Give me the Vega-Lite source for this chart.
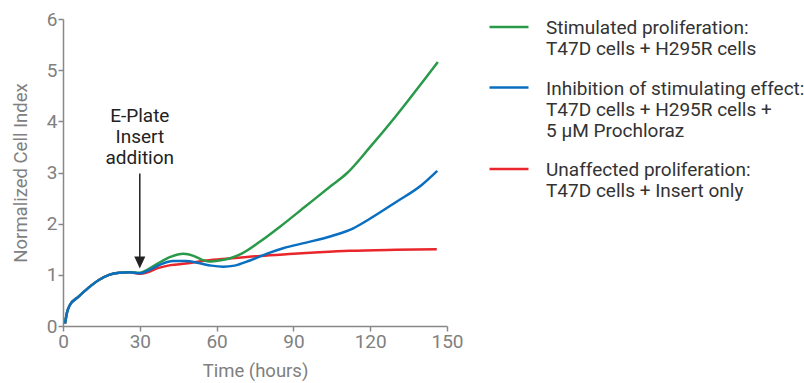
{
  "$schema": "https://vega.github.io/schema/vega-lite/v6.json",
  "width": 384,
  "height": 307,
  "autosize": {"type": "none"},
  "padding": {"left": 63, "top": 19, "right": 357, "bottom": 57},
  "config": {
    "view": {"stroke": null},
    "font": "Roboto",
    "axis": {
      "domainColor": "#888888",
      "tickColor": "#888888",
      "labelColor": "#808080",
      "titleColor": "#808080",
      "labelFontSize": 19,
      "titleFontSize": 18.5,
      "titleFontWeight": "normal",
      "labelFont": "Roboto",
      "titleFont": "Roboto",
      "labelFlush": false,
      "grid": false,
      "tickSize": 5,
      "domainWidth": 1.5,
      "tickWidth": 1.5
    }
  },
  "datasets": {
    "curves": [
      {"t": 0.8, "v": 0.05, "series": "Unaffected proliferation:|T47D cells + Insert only"},
      {"t": 1.5, "v": 0.25, "series": "Unaffected proliferation:|T47D cells + Insert only"},
      {"t": 2.7, "v": 0.41, "series": "Unaffected proliferation:|T47D cells + Insert only"},
      {"t": 6, "v": 0.57, "series": "Unaffected proliferation:|T47D cells + Insert only"},
      {"t": 10, "v": 0.75, "series": "Unaffected proliferation:|T47D cells + Insert only"},
      {"t": 14, "v": 0.9, "series": "Unaffected proliferation:|T47D cells + Insert only"},
      {"t": 18, "v": 1.0, "series": "Unaffected proliferation:|T47D cells + Insert only"},
      {"t": 22, "v": 1.04, "series": "Unaffected proliferation:|T47D cells + Insert only"},
      {"t": 26, "v": 1.05, "series": "Unaffected proliferation:|T47D cells + Insert only"},
      {"t": 30, "v": 1.02, "series": "Unaffected proliferation:|T47D cells + Insert only"},
      {"t": 33, "v": 1.05, "series": "Unaffected proliferation:|T47D cells + Insert only"},
      {"t": 37, "v": 1.13, "series": "Unaffected proliferation:|T47D cells + Insert only"},
      {"t": 42, "v": 1.19, "series": "Unaffected proliferation:|T47D cells + Insert only"},
      {"t": 48, "v": 1.22, "series": "Unaffected proliferation:|T47D cells + Insert only"},
      {"t": 56, "v": 1.28, "series": "Unaffected proliferation:|T47D cells + Insert only"},
      {"t": 65, "v": 1.32, "series": "Unaffected proliferation:|T47D cells + Insert only"},
      {"t": 77, "v": 1.37, "series": "Unaffected proliferation:|T47D cells + Insert only"},
      {"t": 90, "v": 1.41, "series": "Unaffected proliferation:|T47D cells + Insert only"},
      {"t": 100, "v": 1.44, "series": "Unaffected proliferation:|T47D cells + Insert only"},
      {"t": 112, "v": 1.47, "series": "Unaffected proliferation:|T47D cells + Insert only"},
      {"t": 130, "v": 1.49, "series": "Unaffected proliferation:|T47D cells + Insert only"},
      {"t": 146, "v": 1.5, "series": "Unaffected proliferation:|T47D cells + Insert only"},

      {"t": 0.8, "v": 0.05, "series": "Stimulated proliferation:|T47D cells + H295R cells"},
      {"t": 1.5, "v": 0.25, "series": "Stimulated proliferation:|T47D cells + H295R cells"},
      {"t": 2.7, "v": 0.41, "series": "Stimulated proliferation:|T47D cells + H295R cells"},
      {"t": 6, "v": 0.57, "series": "Stimulated proliferation:|T47D cells + H295R cells"},
      {"t": 10, "v": 0.75, "series": "Stimulated proliferation:|T47D cells + H295R cells"},
      {"t": 14, "v": 0.9, "series": "Stimulated proliferation:|T47D cells + H295R cells"},
      {"t": 18, "v": 1.0, "series": "Stimulated proliferation:|T47D cells + H295R cells"},
      {"t": 22, "v": 1.04, "series": "Stimulated proliferation:|T47D cells + H295R cells"},
      {"t": 26, "v": 1.05, "series": "Stimulated proliferation:|T47D cells + H295R cells"},
      {"t": 30, "v": 1.04, "series": "Stimulated proliferation:|T47D cells + H295R cells"},
      {"t": 33, "v": 1.1, "series": "Stimulated proliferation:|T47D cells + H295R cells"},
      {"t": 37, "v": 1.22, "series": "Stimulated proliferation:|T47D cells + H295R cells"},
      {"t": 42, "v": 1.35, "series": "Stimulated proliferation:|T47D cells + H295R cells"},
      {"t": 47, "v": 1.41, "series": "Stimulated proliferation:|T47D cells + H295R cells"},
      {"t": 51, "v": 1.37, "series": "Stimulated proliferation:|T47D cells + H295R cells"},
      {"t": 54, "v": 1.3, "series": "Stimulated proliferation:|T47D cells + H295R cells"},
      {"t": 57, "v": 1.26, "series": "Stimulated proliferation:|T47D cells + H295R cells"},
      {"t": 61, "v": 1.28, "series": "Stimulated proliferation:|T47D cells + H295R cells"},
      {"t": 65, "v": 1.32, "series": "Stimulated proliferation:|T47D cells + H295R cells"},
      {"t": 70, "v": 1.42, "series": "Stimulated proliferation:|T47D cells + H295R cells"},
      {"t": 77, "v": 1.65, "series": "Stimulated proliferation:|T47D cells + H295R cells"},
      {"t": 85, "v": 1.95, "series": "Stimulated proliferation:|T47D cells + H295R cells"},
      {"t": 95, "v": 2.35, "series": "Stimulated proliferation:|T47D cells + H295R cells"},
      {"t": 105, "v": 2.75, "series": "Stimulated proliferation:|T47D cells + H295R cells"},
      {"t": 110.8, "v": 2.98, "series": "Stimulated proliferation:|T47D cells + H295R cells"},
      {"t": 120, "v": 3.5, "series": "Stimulated proliferation:|T47D cells + H295R cells"},
      {"t": 130, "v": 4.1, "series": "Stimulated proliferation:|T47D cells + H295R cells"},
      {"t": 140, "v": 4.74, "series": "Stimulated proliferation:|T47D cells + H295R cells"},
      {"t": 146.4, "v": 5.16, "series": "Stimulated proliferation:|T47D cells + H295R cells"},

      {"t": 0.8, "v": 0.05, "series": "Inhibition of stimulating effect:|T47D cells + H295R cells +|5 µM Prochloraz"},
      {"t": 1.5, "v": 0.25, "series": "Inhibition of stimulating effect:|T47D cells + H295R cells +|5 µM Prochloraz"},
      {"t": 2.7, "v": 0.41, "series": "Inhibition of stimulating effect:|T47D cells + H295R cells +|5 µM Prochloraz"},
      {"t": 6, "v": 0.57, "series": "Inhibition of stimulating effect:|T47D cells + H295R cells +|5 µM Prochloraz"},
      {"t": 10, "v": 0.75, "series": "Inhibition of stimulating effect:|T47D cells + H295R cells +|5 µM Prochloraz"},
      {"t": 14, "v": 0.9, "series": "Inhibition of stimulating effect:|T47D cells + H295R cells +|5 µM Prochloraz"},
      {"t": 18, "v": 1.0, "series": "Inhibition of stimulating effect:|T47D cells + H295R cells +|5 µM Prochloraz"},
      {"t": 22, "v": 1.04, "series": "Inhibition of stimulating effect:|T47D cells + H295R cells +|5 µM Prochloraz"},
      {"t": 26, "v": 1.05, "series": "Inhibition of stimulating effect:|T47D cells + H295R cells +|5 µM Prochloraz"},
      {"t": 30, "v": 1.03, "series": "Inhibition of stimulating effect:|T47D cells + H295R cells +|5 µM Prochloraz"},
      {"t": 34, "v": 1.1, "series": "Inhibition of stimulating effect:|T47D cells + H295R cells +|5 µM Prochloraz"},
      {"t": 38, "v": 1.2, "series": "Inhibition of stimulating effect:|T47D cells + H295R cells +|5 µM Prochloraz"},
      {"t": 43, "v": 1.27, "series": "Inhibition of stimulating effect:|T47D cells + H295R cells +|5 µM Prochloraz"},
      {"t": 48, "v": 1.27, "series": "Inhibition of stimulating effect:|T47D cells + H295R cells +|5 µM Prochloraz"},
      {"t": 53, "v": 1.23, "series": "Inhibition of stimulating effect:|T47D cells + H295R cells +|5 µM Prochloraz"},
      {"t": 58, "v": 1.18, "series": "Inhibition of stimulating effect:|T47D cells + H295R cells +|5 µM Prochloraz"},
      {"t": 62.6, "v": 1.16, "series": "Inhibition of stimulating effect:|T47D cells + H295R cells +|5 µM Prochloraz"},
      {"t": 67, "v": 1.18, "series": "Inhibition of stimulating effect:|T47D cells + H295R cells +|5 µM Prochloraz"},
      {"t": 73, "v": 1.28, "series": "Inhibition of stimulating effect:|T47D cells + H295R cells +|5 µM Prochloraz"},
      {"t": 80, "v": 1.42, "series": "Inhibition of stimulating effect:|T47D cells + H295R cells +|5 µM Prochloraz"},
      {"t": 86, "v": 1.52, "series": "Inhibition of stimulating effect:|T47D cells + H295R cells +|5 µM Prochloraz"},
      {"t": 95, "v": 1.63, "series": "Inhibition of stimulating effect:|T47D cells + H295R cells +|5 µM Prochloraz"},
      {"t": 105, "v": 1.76, "series": "Inhibition of stimulating effect:|T47D cells + H295R cells +|5 µM Prochloraz"},
      {"t": 113.4, "v": 1.91, "series": "Inhibition of stimulating effect:|T47D cells + H295R cells +|5 µM Prochloraz"},
      {"t": 120, "v": 2.1, "series": "Inhibition of stimulating effect:|T47D cells + H295R cells +|5 µM Prochloraz"},
      {"t": 130, "v": 2.42, "series": "Inhibition of stimulating effect:|T47D cells + H295R cells +|5 µM Prochloraz"},
      {"t": 140, "v": 2.75, "series": "Inhibition of stimulating effect:|T47D cells + H295R cells +|5 µM Prochloraz"},
      {"t": 146.2, "v": 3.03, "series": "Inhibition of stimulating effect:|T47D cells + H295R cells +|5 µM Prochloraz"}
    ],
    "note": [{"t": 30, "v": 3.99, "label": "E-Plate\nInsert\naddition", "top": 2.98, "bottom": 1.25, "head": 1.24}]
  },
  "layer": [
    {
      "data": {"name": "curves"},
      "mark": {"type": "line", "interpolate": "monotone", "strokeWidth": 2.5},
      "encoding": {
        "x": {
          "field": "t", "type": "quantitative",
          "scale": {"domain": [0, 150], "nice": false},
          "axis": {"values": [0, 30, 60, 90, 120, 150], "title": "Time (hours)", "titlePadding": 10, "labelPadding": 1}
        },
        "y": {
          "field": "v", "type": "quantitative",
          "scale": {"domain": [0, 6], "nice": false},
          "axis": {"values": [0, 1, 2, 3, 4, 5, 6], "title": "Normalized Cell Index", "titlePadding": 16, "labelPadding": 1}
        },
        "color": {
          "field": "series", "type": "nominal",
          "scale": {
            "domain": [
              "Stimulated proliferation:|T47D cells + H295R cells",
              "Inhibition of stimulating effect:|T47D cells + H295R cells +|5 µM Prochloraz",
              "Unaffected proliferation:|T47D cells + Insert only"
            ],
            "range": ["#2a9a4a", "#0a6fc0", "#e8262b"]
          },
          "legend": {
            "title": null,
            "orient": "none",
            "legendX": 425,
            "legendY": -13,
            "symbolType": "stroke",
            "symbolSize": 1520,
            "symbolStrokeWidth": 2.5,
            "labelExpr": "split(datum.label, '|')",
            "labelFontSize": 19,
            "labelLineHeight": 23.3,
            "labelFont": "Roboto",
            "labelColor": "#333333",
            "labelLimit": 400,
            "labelOffset": 16,
            "labelBaseline": "alphabetic",
            "rowPadding": 7.5,
            "encode": {"labels": {"update": {"dy": {"value": 7}}}}
          }
        }
      }
    },
    {
      "data": {"name": "note"},
      "mark": {"type": "rule", "strokeWidth": 1.5, "color": "#222222"},
      "encoding": {
        "x": {"field": "t", "type": "quantitative"},
        "y": {"field": "top", "type": "quantitative"},
        "y2": {"field": "bottom"}
      }
    },
    {
      "data": {"name": "note"},
      "mark": {"type": "point", "shape": "M-0.92,-1L0.92,-1L0,1Z", "size": 144, "filled": true, "color": "#222222", "opacity": 1},
      "encoding": {
        "x": {"field": "t", "type": "quantitative"},
        "y": {"field": "head", "type": "quantitative"}
      }
    },
    {
      "data": {"name": "note"},
      "mark": {"type": "text", "lineBreak": "\n", "fontSize": 19, "color": "#222222", "lineHeight": 21, "align": "center", "baseline": "alphabetic", "font": "Roboto"},
      "encoding": {
        "x": {"field": "t", "type": "quantitative"},
        "y": {"field": "v", "type": "quantitative"},
        "text": {"field": "label"}
      }
    }
  ]
}
